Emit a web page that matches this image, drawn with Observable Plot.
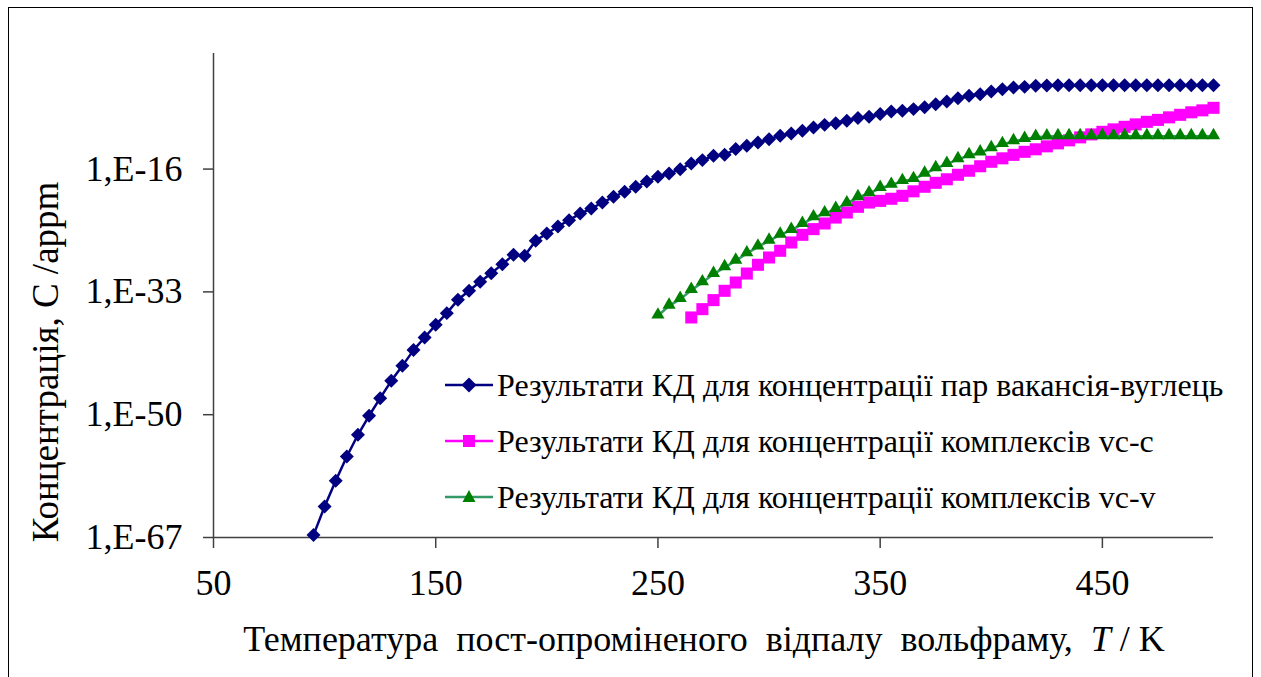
<!DOCTYPE html>
<html>
<head>
<meta charset="utf-8">
<script src="https://cdn.jsdelivr.net/npm/d3@7"></script>
<script src="https://cdn.jsdelivr.net/npm/@observablehq/plot@0.6"></script>
<style>
  html, body { margin: 0; padding: 0; background: #fff; }
  body { position: relative; width: 1261px; height: 677px; overflow: hidden;
         font-family: "Liberation Serif", "Times New Roman", serif; color: #000; }
  #frame { position: absolute; left: 8px; top: 7px; width: 1245px; height: 700px;
           border: 1.5px solid #000; box-sizing: border-box; }
  #chart { position: absolute; left: 0; top: 0; }
  .title { position: absolute; white-space: nowrap; }
  #xtitle { left: 704px; top: 621px; transform: translateX(-50%); font-size: 36px; line-height: 36px; }
  #xtitle .words { word-spacing: 9px; }
  #ytitle { left: 45px; top: 362px; transform: translate(-50%, -50%) rotate(-90deg); font-size: 37px; line-height: 37px; }
  #legend { position: absolute; left: 445px; top: 357px; }
  .lrow { display: flex; align-items: center; height: 56px; font-size: 32px; white-space: nowrap; }
  .lrow svg { flex: none; margin-right: 4px; }
</style>
</head>
<body>
<div id="frame"></div>
<div id="chart"></div>
<div id="legend"></div>
<div class="title" id="xtitle"></div>
<div class="title" id="ytitle"></div>
<script>
// ---- data; concentrations stored as log10(C / appm)
const tempVacC = [95,100,105,110,115,120,125,130,135,140,145,150,155,160,165,170,175,180,185,190,
  195,200,205,210,215,220,225,230,235,240,245,250,255,260,265,270,275,280,285,290,
  295,300,305,310,315,320,325,330,335,340,345,350,355,360,365,370,375,380,385,390,
  395,400,405,410,415,420,425,430,435,440,445,450,455,460,465,470,475,480,485,490,495,500];
const logVacC = [-66.67,-62.71,-59.15,-55.79,-52.78,-50.15,-47.71,-45.31,-43.24,-41.06,
  -39.32,-37.56,-35.94,-34.10,-32.85,-31.61,-30.41,-29.16,-27.87,-28.00,
  -25.93,-24.92,-23.95,-23.07,-22.16,-21.46,-20.63,-19.84,-19.15,-18.46,
  -17.72,-17.07,-16.62,-16.01,-15.23,-14.76,-14.17,-14.03,-13.23,-12.78,
  -12.33,-11.86,-11.40,-11.08,-10.70,-10.25,-9.88,-9.64,-9.32,-8.94,
  -8.77,-8.39,-8.03,-7.94,-7.70,-7.43,-7.01,-6.65,-6.18,-5.86,
  -5.63,-5.27,-4.94,-4.72,-4.62,-4.48,-4.42,-4.40,-4.40,-4.40,
  -4.40,-4.40,-4.40,-4.40,-4.40,-4.40,-4.40,-4.40,-4.40,-4.40,-4.40,-4.40];

const tempVcC = [265,270,275,280,285,290,295,300,305,310,315,320,325,330,335,340,345,350,355,360,
  365,370,375,380,385,390,395,400,405,410,415,420,425,430,435,440,445,450,455,460,
  465,470,475,480,485,490,495,500];
const logVcC = [-36.54,-35.39,-34.14,-32.85,-31.70,-30.46,-29.25,-28.24,-27.31,-26.16,
  -25.10,-24.31,-23.53,-22.71,-22.01,-21.22,-20.63,-20.40,-20.11,-19.70,
  -19.08,-18.45,-17.90,-17.41,-16.79,-16.23,-15.61,-14.99,-14.51,-14.03,
  -13.61,-13.26,-12.85,-12.44,-12.02,-11.61,-11.20,-10.84,-10.50,-10.15,
  -9.81,-9.46,-9.19,-8.84,-8.49,-8.14,-7.87,-7.52];

const tempVcV = [250,255,260,265,270,275,280,285,290,295,300,305,310,315,320,325,330,335,340,345,
  350,355,360,365,370,375,380,385,390,395,400,405,410,415,420,425,430,435,440,445,
  450,455,460,465,470,475,480,485,490,495,500];
const logVcV = [-36.31,-34.93,-34.00,-32.76,-31.70,-30.54,-29.62,-28.70,-27.69,-26.76,
  -25.93,-25.10,-24.45,-23.62,-22.71,-22.15,-21.54,-20.77,-19.93,-19.38,
  -18.64,-18.21,-17.69,-17.41,-16.66,-15.90,-15.31,-14.65,-14.11,-13.73,
  -13.13,-12.57,-12.16,-11.86,-11.58,-11.50,-11.47,-11.47,-11.47,-11.47,
  -11.47,-11.47,-11.47,-11.47,-11.47,-11.47,-11.47,-11.47,-11.47,-11.47,-11.47];

const seriesNames = [
  "Результати КД для концентрації пар вакансія-вуглець",
  "Результати КД для концентрації комплексів vc-c",
  "Результати КД для концентрації комплексів vc-v"
];
const xTicks = [50, 150, 250, 350, 450];
const yTickExp = [-67, -50, -33, -16];
const xTitleWords = "Температура пост-опроміненого відпалу вольфраму, ";
const xTitleUnit = "<i>T</i> / K";
const yTitle = "Концентрація, С /appm";

// ---- build tables
const toRows = (ts, ls) => ts.map((t, i) => ({T: t, C: Math.pow(10, ls[i])}));
const vacC = toRows(tempVacC, logVacC);
const vcC = toRows(tempVcC, logVcC);
const vcV = toRows(tempVcV, logVcV);
const yTicks = yTickExp.map(e => Math.pow(10, e));

const navy = "#000080", magenta = "#FF00FF", green = "#008000", greenLine = "#339966";
const axisColor = "#404040";

const chart = Plot.plot({
  width: 1261,
  height: 677,
  marginLeft: 213,
  marginRight: 48,
  marginTop: 53,
  marginBottom: 140,
  style: {fontFamily: "'Liberation Serif', 'Times New Roman', serif", fontSize: "36px", background: "transparent", overflow: "visible"},
  x: {domain: [50, 500]},
  y: {type: "log", domain: [1e-67, 1]},
  marks: [
    Plot.ruleX([50], {stroke: axisColor, strokeWidth: 1.5}),
    Plot.ruleY([1e-67], {stroke: axisColor, strokeWidth: 1.5}),
    Plot.axisX({ticks: xTicks, tickSize: 11, tickPadding: 21, fontSize: 36, stroke: axisColor, strokeWidth: 1.5, fill: "#000", label: null}),
    Plot.axisY({ticks: yTicks, tickSize: 10, tickPadding: 21, fontSize: 36, stroke: axisColor, strokeWidth: 1.5, fill: "#000", label: null,
      tickFormat: d => "1,E" + Math.round(Math.log10(d))}),
    Plot.line(vacC, {x: "T", y: "C", stroke: navy, strokeWidth: 2.5}),
    Plot.dot(vacC, {x: "T", y: "C", symbol: "diamond2", r: 6.3, fill: navy, stroke: "none"}),
    Plot.line(vcC, {x: "T", y: "C", stroke: magenta, strokeWidth: 2.5}),
    Plot.dot(vcC, {x: "T", y: "C", symbol: "square", r: 6.8, fill: magenta, stroke: "none"}),
    Plot.line(vcV, {x: "T", y: "C", stroke: greenLine, strokeWidth: 2.5}),
    Plot.dot(vcV, {x: "T", y: "C", symbol: "triangle", r: 4.9, fill: green, stroke: "none", dy: -1})
  ]
});
document.getElementById("chart").appendChild(chart);

// ---- legend
const markers = [
  {line: navy, shape: `<polygon points="24,2.5 31.5,10 24,17.5 16.5,10" fill="${navy}"/>`},
  {line: magenta, shape: `<rect x="18" y="4" width="12" height="12" fill="${magenta}"/>`},
  {line: greenLine, shape: `<polygon points="24,3 30.5,15 17.5,15" fill="${green}"/>`}
];
const legend = document.getElementById("legend");
seriesNames.forEach((name, i) => {
  const row = document.createElement("div");
  row.className = "lrow";
  row.innerHTML = `<svg width="48" height="20" viewBox="0 0 48 20"><line x1="0" y1="10" x2="48" y2="10" stroke="${markers[i].line}" stroke-width="2.5"/>${markers[i].shape}</svg><span>${name}</span>`;
  legend.appendChild(row);
});

document.getElementById("xtitle").innerHTML = `<span class="words">${xTitleWords}</span>${xTitleUnit}`;
document.getElementById("ytitle").textContent = yTitle;
</script>
</body>
</html>
